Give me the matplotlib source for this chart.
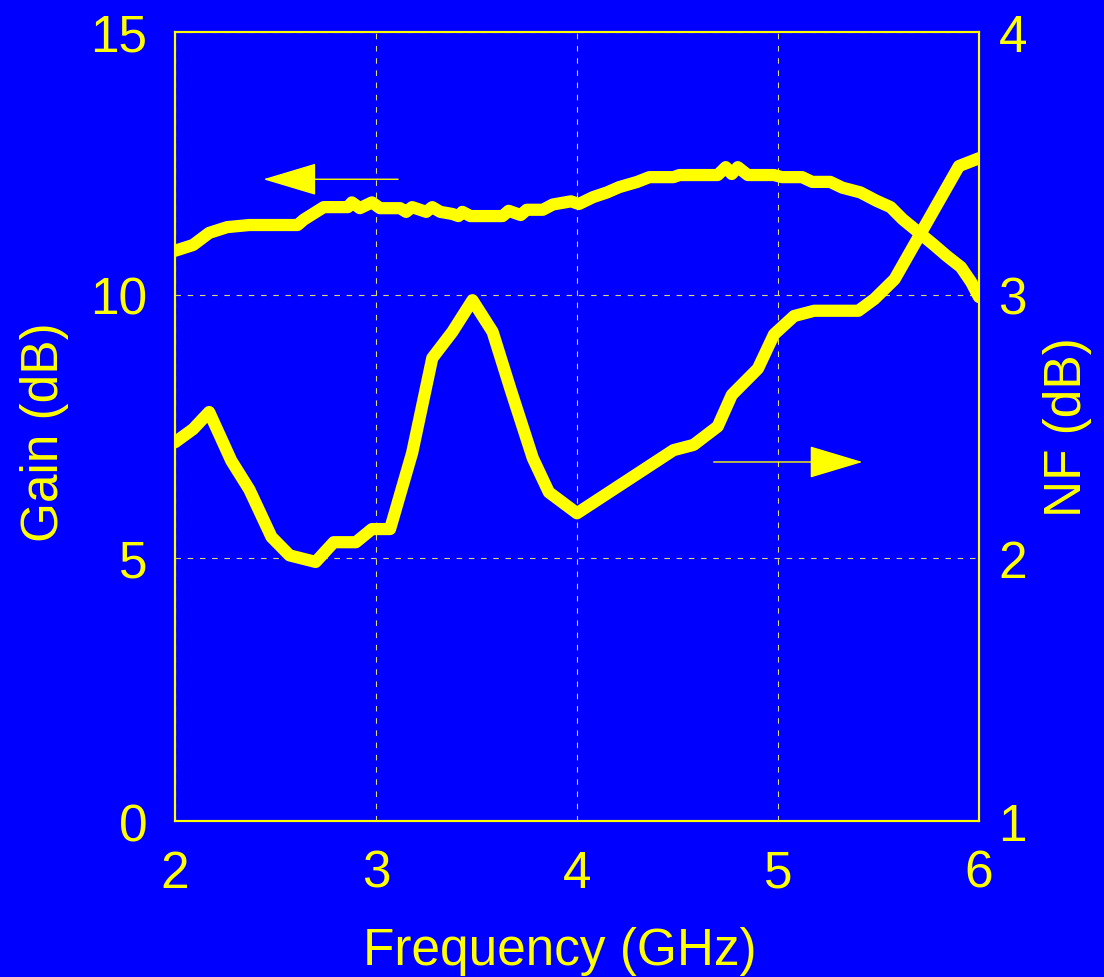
import matplotlib.pyplot as plt

# gain curve (left axis)
gain_freq = [2.00, 2.09, 2.17, 2.26, 2.37, 2.61, 2.64, 2.74, 2.86, 2.88,
             2.92, 2.98, 3.02, 3.12, 3.15, 3.18, 3.25, 3.28, 3.32, 3.38,
             3.41, 3.43, 3.47, 3.63, 3.66, 3.72, 3.75, 3.83, 3.88, 3.97,
             4.01, 4.08, 4.15, 4.21, 4.30, 4.36, 4.48, 4.51, 4.70, 4.74,
             4.77, 4.80, 4.85, 4.98, 5.02, 5.12, 5.17, 5.26, 5.32, 5.41,
             5.49, 5.56, 5.62, 5.69, 5.77, 5.84, 5.91, 5.96, 6.00]
gain_db = [10.84, 10.95, 11.18, 11.29, 11.33, 11.33, 11.43, 11.67, 11.67, 11.76,
           11.65, 11.76, 11.65, 11.65, 11.58, 11.67, 11.58, 11.67, 11.58, 11.54,
           11.50, 11.58, 11.50, 11.50, 11.60, 11.52, 11.62, 11.62, 11.72, 11.78,
           11.73, 11.86, 11.95, 12.05, 12.15, 12.24, 12.24, 12.28, 12.28, 12.43,
           12.30, 12.43, 12.28, 12.28, 12.24, 12.24, 12.15, 12.15, 12.04, 11.95,
           11.79, 11.67, 11.44, 11.22, 10.97, 10.74, 10.53, 10.25, 9.96]

# noise figure curve (right axis)
nf_freq = [2.00, 2.09, 2.17, 2.28, 2.37, 2.48, 2.57, 2.70, 2.79, 2.90,
           2.98, 3.07, 3.18, 3.28, 3.38, 3.48, 3.58, 3.67, 3.78, 3.86,
           4.00, 4.08, 4.48, 4.58, 4.70, 4.77, 4.90, 4.98, 5.08, 5.18,
           5.40, 5.48, 5.58, 5.90, 6.00]
nf_db = [2.44, 2.49, 2.555, 2.37, 2.26, 2.08, 2.01, 1.985, 2.06, 2.06,
         2.11, 2.11, 2.40, 2.76, 2.86, 2.98, 2.86, 2.64, 2.38, 2.25,
         2.17, 2.21, 2.41, 2.43, 2.50, 2.62, 2.72, 2.85, 2.92, 2.94,
         2.94, 2.985, 3.06, 3.49, 3.52]

x_ticks = [2, 3, 4, 5, 6]
gain_ticks = [0, 5, 10, 15]
nf_ticks = [1, 2, 3, 4]

blue = '#0000FF'
yellow = '#FFFF00'

plt.rcParams['font.family'] = ['Liberation Sans', 'DejaVu Sans']

fig = plt.figure(figsize=(11.04, 9.78), dpi=100, facecolor=blue)
ax = fig.add_axes([0.1585, 0.1595, 0.7283, 0.8068], facecolor=blue)
ax2 = ax.twinx()

ax.set_xlim(2, 6)
ax.set_ylim(0, 15)
ax2.set_ylim(1, 4)
ax.set_xticks(x_ticks)
ax.set_yticks(gain_ticks)
ax2.set_yticks(nf_ticks)

# dashed grid
ax.grid(True, color='#d8d870', linewidth=0.8, linestyle=(0, (5, 6)))

ax.plot(gain_freq, gain_db, color=yellow, lw=8.8,
        solid_joinstyle='round', solid_capstyle='round')
ax2.plot(nf_freq, nf_db, color=yellow, lw=8.8,
         solid_joinstyle='round', solid_capstyle='round')

# arrows showing which axis each curve belongs to
ax.annotate('', xy=(2.44, 12.2), xytext=(3.11, 12.2),
            arrowprops=dict(arrowstyle='-|>,head_length=35,head_width=10.5',
                            mutation_scale=1, color=yellow, lw=1.0,
                            shrinkA=0, shrinkB=0))
ax2.annotate('', xy=(5.42, 2.365), xytext=(4.68, 2.365),
             arrowprops=dict(arrowstyle='-|>,head_length=35,head_width=10.5',
                             mutation_scale=1, color=yellow, lw=1.0,
                             shrinkA=0, shrinkB=0))

for a in (ax, ax2):
    for sp in a.spines.values():
        sp.set_color(yellow)
        sp.set_linewidth(1.5)

ax.tick_params(axis='both', length=0, pad=20, labelsize=37, labelcolor=yellow)
ax2.tick_params(axis='y', length=0, pad=14, labelsize=37, labelcolor=yellow)

ax.set_xlabel('Frequency (GHz)', fontsize=37, color=yellow)
ax.set_ylabel('Gain (dB)', fontsize=37, color=yellow)
ax2.set_ylabel('NF (dB)', fontsize=37, color=yellow)
ax.xaxis.set_label_coords(0.478, -0.133)
ax.yaxis.set_label_coords(-0.132, 0.494)
ax2.yaxis.set_label_coords(1.079, 0.5)

plt.savefig('out.png', dpi=100, facecolor=blue)
